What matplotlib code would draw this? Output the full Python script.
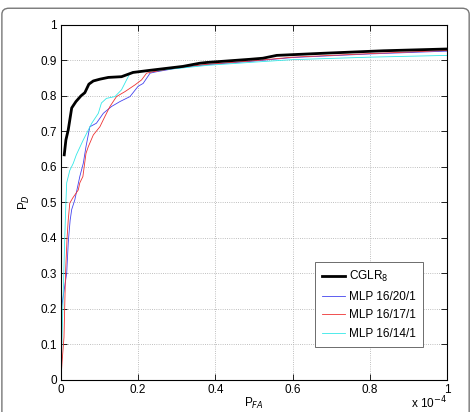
import numpy as np
import matplotlib.pyplot as plt
from matplotlib.patches import FancyBboxPatch

plt.rcParams['font.family'] = ['Liberation Sans', 'DejaVu Sans']

# P_FA in units of 1e-4
cglr_x = [0.0087, 0.013, 0.019, 0.028, 0.039, 0.052, 0.062, 0.0725, 0.084, 0.101, 0.123,
          0.157, 0.187, 0.231, 0.316, 0.36, 0.377, 0.49, 0.523, 0.559, 0.68, 0.835, 1.0]
cglr_y = [0.634, 0.676, 0.704, 0.766, 0.784, 0.80, 0.809, 0.833, 0.842, 0.847, 0.852,
          0.854, 0.866, 0.872, 0.883, 0.892, 0.894, 0.903, 0.906, 0.914, 0.920, 0.927, 0.932]

mlp20_x = [0.0, 0.002, 0.008, 0.015, 0.019, 0.020, 0.024, 0.028, 0.036, 0.049, 0.058, 0.065,
           0.075, 0.092, 0.11, 0.131, 0.153, 0.179, 0.2, 0.213, 0.231, 0.248, 0.3, 0.38,
           0.5, 0.6, 0.8, 1.0]
mlp20_y = [0.0, 0.206, 0.25, 0.30, 0.385, 0.40, 0.45, 0.48, 0.507, 0.573, 0.61, 0.657,
           0.713, 0.723, 0.751, 0.77, 0.784, 0.798, 0.827, 0.835, 0.864, 0.868, 0.878, 0.888,
           0.898, 0.908, 0.918, 0.926]

mlp17_x = [0.0, 0.003, 0.008, 0.012, 0.016, 0.019, 0.023, 0.031, 0.045, 0.049, 0.057, 0.065,
           0.071, 0.084, 0.101, 0.114, 0.127, 0.144, 0.166, 0.192, 0.209, 0.222, 0.239,
           0.3, 0.38, 0.5, 0.6, 0.8, 1.0]
mlp17_y = [0.0, 0.05, 0.12, 0.30, 0.40, 0.45, 0.498, 0.513, 0.535, 0.555, 0.573, 0.638,
           0.657, 0.69, 0.713, 0.742, 0.77, 0.798, 0.812, 0.831, 0.845, 0.864, 0.868,
           0.879, 0.889, 0.899, 0.909, 0.919, 0.928]

mlp14_x = [0.0, 0.005, 0.010, 0.013, 0.015, 0.023, 0.032, 0.04, 0.058, 0.08, 0.097, 0.105,
           0.118, 0.14, 0.157, 0.179, 0.187, 0.25, 0.3, 0.38, 0.5, 0.6, 0.8, 1.0]
mlp14_y = [0.0, 0.2, 0.4, 0.5, 0.555, 0.59, 0.61, 0.634, 0.676, 0.723, 0.751, 0.78,
           0.793, 0.798, 0.817, 0.864, 0.868, 0.872, 0.877, 0.886, 0.895, 0.902, 0.909, 0.914]

xticks = [0, 0.2, 0.4, 0.6, 0.8, 1]
yticks = [0, 0.1, 0.2, 0.3, 0.4, 0.5, 0.6, 0.7, 0.8, 0.9, 1]

fig = plt.figure(figsize=(4.72, 4.12), dpi=100)
fig.patches.append(FancyBboxPatch((0.004, -0.05), 0.99, 1.03, boxstyle="round,pad=0,rounding_size=0.015",
                                  transform=fig.transFigure, fill=False, ec='#777777', lw=1.0))
ax = fig.add_axes([0.129, 0.0777, 0.818, 0.862])

ax.plot(cglr_x, cglr_y, color='black', lw=2.0, label='CGLR$_8$', zorder=5)
ax.plot(mlp20_x, mlp20_y, color='#4444ee', lw=0.6, label='MLP 16/20/1')
ax.plot(mlp17_x, mlp17_y, color='#ee3333', lw=0.6, label='MLP 16/17/1')
ax.plot(mlp14_x, mlp14_y, color='#33e8e8', lw=0.6, label='MLP 16/14/1')

ax.set_xlim(0, 1)
ax.set_ylim(0, 1)
ax.set_xticks(xticks)
ax.set_xticklabels(['0', '0.2', '0.4', '0.6', '0.8', '1'])
ax.set_yticks(yticks)
ax.set_yticklabels(['0', '0.1', '0.2', '0.3', '0.4', '0.5', '0.6', '0.7', '0.8', '0.9', '1'])
ax.tick_params(direction='in', top=True, right=True, labelsize=8.5, length=4, width=0.6, pad=3)
ax.grid(True, ls=':', color='#aaaaaa', lw=0.6)
for s in ax.spines.values():
    s.set_linewidth(0.8)

ax.set_xlabel('P$_{FA}$', fontsize=8.5, labelpad=0)
ax.set_ylabel('P$_{D}$', fontsize=8.5, labelpad=6)
ax.text(1.0, -0.042, 'x 10$^{-4}$', transform=ax.transAxes, ha='right', va='top', fontsize=8.5)

leg = ax.legend(loc='lower right', bbox_to_anchor=(0.953, 0.077), fontsize=8.5, fancybox=False,
                edgecolor='#555555', framealpha=1, handlelength=2.0, handletextpad=0.3,
                borderpad=0.6, labelspacing=0.55)
leg.get_frame().set_linewidth(0.6)

fig.savefig('out.png', dpi=100)
